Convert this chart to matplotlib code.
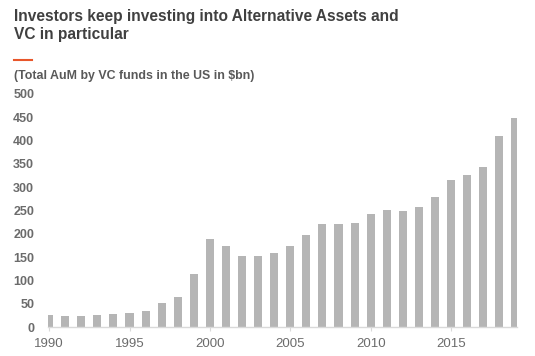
import matplotlib
matplotlib.use('Agg')
from matplotlib import pyplot as plt
from matplotlib.lines import Line2D

years = list(range(1990, 2020))
aum = [26, 24, 24, 26, 28, 30, 35, 52, 65, 115,
       190, 174, 152, 153, 158, 173, 198, 221, 221, 223,
       242, 251, 249, 258, 280, 315, 327, 343, 409, 448]
yticks = [0, 50, 100, 150, 200, 250, 300, 350, 400, 450, 500]
xticks = [1990, 1995, 2000, 2005, 2010, 2015]

plt.rcParams['font.family'] = ['Liberation Sans', 'DejaVu Sans']

fig = plt.figure(figsize=(5.35, 3.56), dpi=100)
ax = fig.add_axes([0.09, 0.081, 0.876, 0.655])

ax.bar(years, aum, width=0.5, color='#b5b5b5', zorder=2)
ax.set_xlim(1989.94, 2019.09)
ax.set_ylim(0, 500)

ax.set_yticks(yticks)
ax.set_yticklabels([str(v) for v in yticks], fontsize=9, fontweight='bold', color='#6b6b6b')
ax.set_xticks(xticks)
ax.set_xticklabels([str(v) for v in xticks], fontsize=9.5, color='#6b6b6b',
                   family=['Liberation Sans Narrow', 'Liberation Sans'])
ax.tick_params(axis='y', length=0, pad=10)
ax.tick_params(axis='x', length=3, color='#d9d9d9', pad=5)

for s in ['top', 'right', 'left']:
    ax.spines[s].set_visible(False)
ax.spines['bottom'].set_color('#d9d9d9')
ax.spines['bottom'].set_linewidth(1)

# titles
fig.text(14 / 535, 1 - 16 / 356, 'Investors keep investing into Alternative Assets and',
         fontsize=11.2, fontweight='bold', color='#404040', va='center', ha='left')
fig.text(14 / 535, 1 - 35 / 356, 'VC in particular',
         fontsize=11.2, fontweight='bold', color='#404040', va='center', ha='left')
fig.add_artist(Line2D([14 / 535, 32 / 535], [1 - 60 / 356, 1 - 60 / 356],
                      transform=fig.transFigure, color='#e8562a', linewidth=1.5))
fig.text(14 / 535, 1 - 76 / 356, '(Total AuM by VC funds in the US in $bn)',
         fontsize=8.9, fontweight='bold', color='#595959', va='center', ha='left')

plt.savefig('out.png', dpi=100)
